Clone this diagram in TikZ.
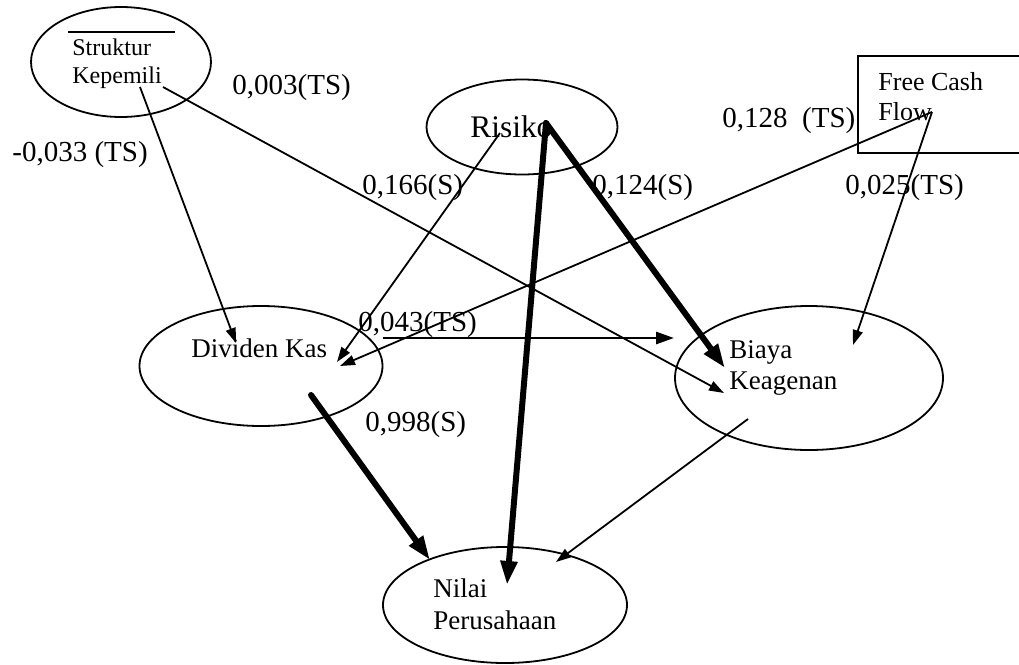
\documentclass[tikz,border=0pt]{standalone}
\usepackage{fontspec}
\setmainfont{Liberation Serif}
\usetikzlibrary{shapes.geometric,arrows.meta,positioning}
\begin{document}
\begin{tikzpicture}[x=0.5pt,y=0.5pt,
            oval/.style={draw,ellipse,inner sep=0pt,line width=0.9pt},
            box/.style={draw,rectangle,inner sep=0pt,line width=0.9pt},
            txt/.style={inner sep=0pt,anchor=west,align=left,font=\fontsize{13.5}{15.5}\selectfont},
            coef/.style={inner sep=0pt,anchor=west,font=\fontsize{14.5}{17}\selectfont},
            lnk/.style={line width=0.9pt,-{Triangle[length=7.5pt,width=5pt]}},
            lnkmid/.style={line width=1.4pt,-{Triangle[length=9pt,width=6pt]}},
            lnkbold/.style={line width=3pt,line cap=round,-{Triangle[length=12pt,width=8pt]}}]
                \useasboundingbox (0,0) rectangle (1019,-665);
                \node[oval,minimum width=90pt,minimum height=55pt] (sk) at (121,-62) {};
                \node[oval,minimum width=95.5pt,minimum height=47.5pt] (rs) at (522,-127) {};
                \node[box,anchor=north west,minimum width=86.5pt,minimum height=48.5pt] (fcf) at (857,-55) {};
                \node[oval,minimum width=121.5pt,minimum height=60pt] (dk) at (261,-366) {};
                \node[oval,minimum width=134pt,minimum height=72pt] (bk) at (809,-378) {};
                \node[oval,minimum width=122pt,minimum height=58pt] (np) at (505,-605) {};
                \node[txt,font=\fontsize{12}{14}\selectfont] (sk-t) at (72,-64) {Struktur\\Kepemili};
                \draw[line width=0.9pt] (68,-32) -- (175,-32);
                \node[txt,font=\fontsize{15.7}{18}\selectfont] (rs-t) at (470,-127) {Risiko};
                \node[txt,font=\fontsize{13}{15}\selectfont] (fcf-t) at (878,-97) {Free Cash\\Flow};
                \node[txt] (dk-t) at (191,-348) {Dividen Kas};
                \node[txt] (bk-t) at (729,-368) {Biaya\\Keagenan};
                \node[txt,font=\fontsize{13.5}{16}\selectfont] (np-t) at (433,-604) {Nilai\\Perusahaan};
                \draw[lnk] ([shift={(19,-25)}]sk.center) -- ([shift={(-25,23)}]dk.center);
                \draw[lnk] ([shift={(42,-25)}]sk.center) -- ([shift={(-85,-15)}]bk.center);
                \draw[lnk] ([shift={(-22,-6)}]rs.center) -- ([shift={(76,4)}]dk.center);
                \draw[lnk] ([shift={(75,-57)}]fcf.north west) -- ([shift={(79,0)}]dk.center);
                \draw[lnk] ([shift={(75,-57)}]fcf.north west) -- ([shift={(44,33)}]bk.center);
                \draw[lnkmid] ([shift={(122,28)}]dk.center) -- ([shift={(-135,40)}]bk.center);
                \draw[lnkbold] ([shift={(24,4)}]rs.center) -- ([shift={(-84,10)}]bk.center);
                \draw[lnkbold] ([shift={(24,4)}]rs.center) -- ([shift={(2,20)}]np.center);
                \draw[lnkbold] ([shift={(50,-29)}]dk.center) -- ([shift={(-75,45)}]np.center);
                \draw[lnk] ([shift={(-61,-41)}]bk.center) -- ([shift={(51,43)}]np.center);
                \node[coef] (c-sd) at (12,-155) {-0,033 (TS)};
                \node[coef] (c-sb) at (232,-88) {0,003(TS)};
                \node[coef] (c-rd) at (362,-188) {0,166(S)};
                \node[coef] (c-rb) at (592,-188) {0,124(S)};
                \node[coef] (c-fd) at (722,-121) {0,128\ \ (TS)};
                \node[coef] (c-fb) at (845,-188) {0,025(TS)};
                \node[coef] (c-db) at (358,-325) {0,043(TS)};
                \node[coef] (c-dn) at (365,-425) {0,998(S)};
            \end{tikzpicture}
\end{document}
